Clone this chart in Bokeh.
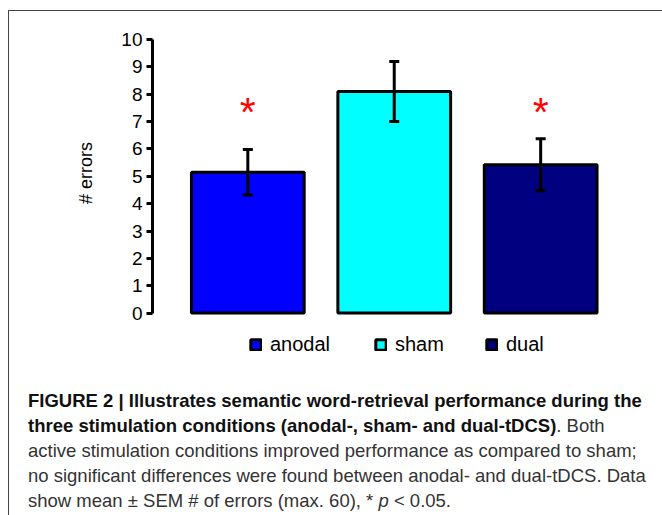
from bokeh.plotting import figure
from bokeh.models import (ColumnDataSource, Whisker, TeeHead, Legend, LegendItem,
                          FixedTicker, Range1d, Div)
from bokeh.layouts import column
from bokeh.core.properties import value
from bokeh.embed import file_html
from bokeh.resources import INLINE

# ---- data ----
conditions = ["anodal", "sham", "dual"]
mean_errors = [5.15, 8.1, 5.42]
sem_errors = [0.83, 1.1, 0.95]
bar_colors = ["#0000ff", "#00ffff", "#000080"]
significance = ["*", "", "*"]
y_ticks = [0, 1, 2, 3, 4, 5, 6, 7, 8, 9, 10]
y_label = "# errors"

# ---- layout constants ----
STAR_Y = 7.35
FONT = "Liberation Sans"
LEGEND_X = [97, 222, 333]
LEGEND_Y = 5
LABEL_SHIFT = "\u00a0" * 11  # lifts the rotated label toward the axis' middle

xs = [i + 1 for i in range(len(conditions))]

p = figure(width=652, height=366, output_backend="svg", toolbar_location=None,
           x_range=Range1d(0.349, 3.716), y_range=Range1d(-1.77, 10),
           min_border_left=143, min_border_right=16, min_border_top=28,
           min_border_bottom=16)
p.outline_line_color = None
p.xgrid.visible = False
p.ygrid.visible = False
p.xaxis.visible = False

renderers = []
for i, c in enumerate(conditions):
    src = ColumnDataSource(dict(x=[xs[i]], top=[mean_errors[i]]))
    r = p.vbar(x="x", top="top", bottom=0, width=0.77, source=src,
               fill_color=bar_colors[i], line_color="black", line_width=3)
    renderers.append(r)

wsrc = ColumnDataSource(dict(
    x=xs,
    upper=[m + s for m, s in zip(mean_errors, sem_errors)],
    lower=[m - s for m, s in zip(mean_errors, sem_errors)],
))
w = Whisker(source=wsrc, base="x", upper="upper", lower="lower",
            line_width=3, line_color="black", level="overlay",
            upper_head=TeeHead(size=10, line_width=3, line_color="black"),
            lower_head=TeeHead(size=10, line_width=3, line_color="black"))
p.add_layout(w)

ssrc = ColumnDataSource(dict(x=xs, y=[STAR_Y] * len(xs), t=significance))
p.text(x="x", y="y", text="t", source=ssrc, text_color="#ff0000",
       text_font=value(FONT), text_font_size="41px", text_align="center",
       text_baseline="middle")

ax = p.yaxis[0]
ax.ticker = FixedTicker(ticks=y_ticks)
ax.bounds = (y_ticks[0], y_ticks[-1])
ax.minor_tick_line_color = None
ax.major_tick_in = 0
ax.major_tick_out = 6
ax.major_tick_line_width = 3
ax.axis_line_width = 3
ax.major_label_standoff = 4
ax.major_label_text_font = FONT
ax.major_label_text_font_size = "19px"
ax.major_label_text_color = "black"
ax.axis_label = LABEL_SHIFT + y_label
ax.axis_label_text_font = FONT
ax.axis_label_text_font_size = "18px"
ax.axis_label_text_font_style = "normal"
ax.axis_label_text_color = "black"
ax.axis_label_standoff = 22

for i, c in enumerate(conditions):
    leg = Legend(items=[LegendItem(label=c, renderers=[renderers[i]])],
                 location=(LEGEND_X[i], LEGEND_Y), orientation="horizontal",
                 padding=0, margin=0, border_line_color=None,
                 background_fill_alpha=0, glyph_width=13, glyph_height=13,
                 label_standoff=8, label_text_font=FONT,
                 label_text_font_size="20px", label_text_color="black")
    p.add_layout(leg)

caption_html = (
    '<div style="font-family:\'Liberation Sans\',Arial,sans-serif;'
    'font-size:18.5px;line-height:25px;color:#333;white-space:nowrap;'
    'padding:6px 0 0 14px;">'
    '<b style="color:#111">FIGURE 2 | Illustrates semantic word-retrieval performance during the</b><br>'
    '<b style="color:#111">three stimulation conditions (anodal-, sham- and dual-tDCS)</b>. Both<br>'
    'active stimulation conditions improved performance as compared to sham;<br>'
    'no significant differences were found between anodal- and dual-tDCS. Data<br>'
    'show mean &plusmn; SEM # of errors (max. 60), * <i>p</i> &lt; 0.05.'
    '</div>'
)
cap = Div(text=caption_html, width=652, height=134)

layout = column(p, cap, spacing=0,
                styles={"border-left": "1.5px solid #444",
                        "border-top": "1.5px solid #444",
                        "margin-top": "10px", "margin-left": "8px"})

open("out.html", "w").write(file_html(layout, INLINE))
